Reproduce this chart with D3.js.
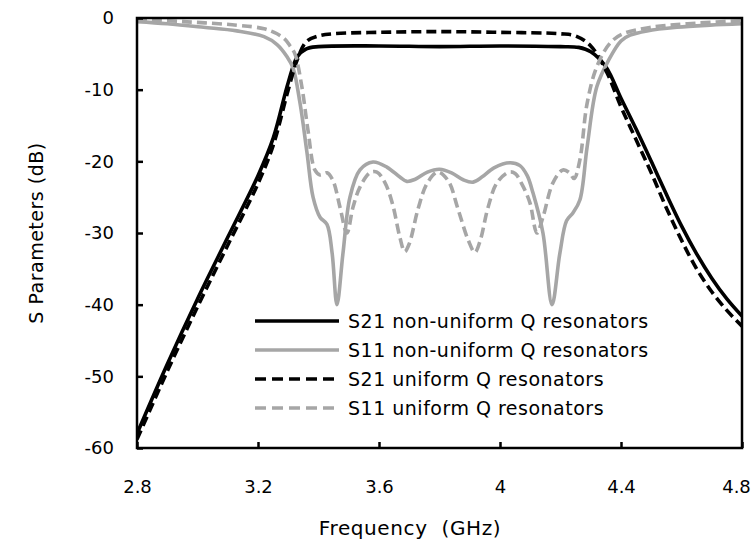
<!DOCTYPE html>
<html>
<head>
<meta charset="utf-8">
<script src="https://cdn.jsdelivr.net/npm/d3@7"></script>
<style>
  body { margin: 0; background: #fff; }
  svg { display: block; font-family: "DejaVu Sans", sans-serif; }
</style>
</head>
<body>
<svg id="chart" width="753" height="544"></svg>
<script>
// x ticks and y ticks, as printed
const xTicks = [2.8, 3.2, 3.6, 4.0, 4.4, 4.8];
const xTickLabels = ['2.8', '3.2', '3.6', '4', '4.4', '4.8'];
const yTicks = [0, -10, -20, -30, -40, -50, -60];
const yTickLabels = ['0', '-10', '-20', '-30', '-40', '-50', '-60'];

// [frequency GHz, dB]
const s21NonUniform = [
  [2.80, -58.0], [2.90, -48.3], [3.00, -39.2], [3.10, -30.6], [3.20, -22.0],
  [3.25, -16.8], [3.30, -9.0], [3.33, -5.4], [3.36, -4.3], [3.40, -4.0],
  [3.6, -3.9], [3.8, -4.0], [4.0, -3.9], [4.2, -4.0], [4.26, -4.1],
  [4.30, -4.7], [4.35, -6.8], [4.40, -11.2], [4.45, -15.5], [4.50, -20.0],
  [4.55, -24.6], [4.60, -29.0], [4.65, -32.9], [4.70, -36.3], [4.75, -39.2],
  [4.80, -41.6]
];
const s11NonUniform = [
  [2.80, -0.5], [2.90, -0.8], [3.02, -1.3], [3.13, -1.8], [3.22, -2.6],
  [3.263, -3.7], [3.296, -5.4], [3.316, -7.0], [3.339, -11.9], [3.362, -18.8],
  [3.382, -25.0], [3.405, -27.8], [3.428, -28.8], [3.445, -32.8], [3.461, -40],
  [3.481, -32.8], [3.504, -25.0], [3.537, -21.2], [3.58, -20.1], [3.626, -20.8],
  [3.669, -22.2], [3.692, -22.8], [3.72, -22.5], [3.76, -21.5], [3.80, -21.1],
  [3.84, -21.6], [3.88, -22.6], [3.911, -22.9], [3.94, -22.2], [3.98, -20.9],
  [4.033, -20.2], [4.066, -20.6], [4.09, -22.0], [4.109, -24.4], [4.142, -30],
  [4.172, -40], [4.198, -32.8], [4.22, -28.3], [4.241, -27.2], [4.264, -25.4],
  [4.288, -18.0], [4.32, -9.6], [4.36, -5.8], [4.40, -3.2], [4.43, -2.4],
  [4.486, -1.8], [4.585, -1.3], [4.694, -1.0], [4.80, -0.8]
];
const s21Uniform = [
  [2.80, -58.8], [2.90, -49.3], [3.00, -40.3], [3.10, -31.7], [3.20, -23.1],
  [3.25, -17.8], [3.30, -10.0], [3.33, -5.8], [3.36, -3.3], [3.40, -2.5],
  [3.45, -2.2], [3.6, -2.0], [3.8, -1.9], [4.0, -2.0], [4.2, -2.2],
  [4.25, -2.5], [4.30, -3.9], [4.35, -7.3], [4.40, -12.4], [4.45, -17.0],
  [4.50, -21.6], [4.55, -26.5], [4.60, -31.0], [4.65, -35.0], [4.70, -38.2],
  [4.75, -40.8], [4.80, -43.0]
];
const s11Uniform = [
  [2.80, -0.2], [2.95, -0.5], [3.13, -1.0], [3.22, -1.5], [3.263, -2.2],
  [3.29, -3.0], [3.306, -3.9], [3.322, -5.0], [3.345, -9.6], [3.365, -15.6],
  [3.388, -21.2], [3.405, -21.9], [3.428, -21.6], [3.448, -22.7], [3.471, -26.4],
  [3.494, -30.0], [3.514, -26.4], [3.537, -23.6], [3.570, -21.6], [3.593, -21.5],
  [3.62, -23.0], [3.645, -26.0], [3.669, -30.6], [3.685, -32.6], [3.70, -31.5],
  [3.73, -26.5], [3.76, -23.0], [3.795, -21.5], [3.83, -22.8], [3.86, -26.5],
  [3.895, -31.0], [3.917, -32.7], [3.935, -31.0], [3.96, -26.5], [3.99, -23.0],
  [4.03, -21.5], [4.05, -21.7], [4.075, -23.4], [4.099, -25.8], [4.122, -30.0],
  [4.142, -27.8], [4.175, -23.0], [4.208, -21.2], [4.23, -21.6], [4.245, -22.4],
  [4.264, -19.8], [4.288, -11.9], [4.32, -6.8], [4.364, -3.5], [4.407, -2.2],
  [4.50, -1.3], [4.62, -0.8], [4.80, -0.4]
];

const seriesNames = [
  'S21 non-uniform Q resonators',
  'S11 non-uniform Q resonators',
  'S21 uniform Q resonators',
  'S11 uniform Q resonators'
];

const GRAY = '#a6a6a6';
const series = [
  {name: seriesNames[0], data: s21NonUniform, color: '#000', dash: null},
  {name: seriesNames[1], data: s11NonUniform, color: GRAY, dash: null},
  {name: seriesNames[2], data: s21Uniform, color: '#000', dash: '10,5'},
  {name: seriesNames[3], data: s11Uniform, color: GRAY, dash: '10,5'}
];

const margin = {top: 18, right: 11, bottom: 96, left: 137};
const width = 753, height = 544;

const svg = d3.select('#chart');

const x = d3.scaleLinear().domain([2.8, 4.8]).range([margin.left, width - margin.right]);
const y = d3.scaleLinear().domain([-60, 0]).range([height - margin.bottom, margin.top]);

svg.append('defs').append('clipPath').attr('id', 'plot-clip')
  .append('rect')
  .attr('x', x(2.8)).attr('y', y(0))
  .attr('width', x(4.8) - x(2.8)).attr('height', y(-60) - y(0));

const line = d3.line()
  .x(d => x(d[0]))
  .y(d => y(d[1]))
  .curve(d3.curveCatmullRom.alpha(0.5));

// curves
const plot = svg.append('g').attr('clip-path', 'url(#plot-clip)');
plot.selectAll('path.series')
  .data(series)
  .enter().append('path')
  .attr('class', 'series')
  .attr('d', d => line(d.data))
  .attr('fill', 'none')
  .attr('stroke', d => d.color)
  .attr('stroke-width', 3.6)
  .attr('stroke-dasharray', d => d.dash);

// axes, ticks pointing inwards
const yAxis = d3.axisLeft(y)
  .tickValues(yTicks)
  .tickFormat((d, i) => yTickLabels[i])
  .tickSizeInner(-6)
  .tickSizeOuter(0)
  .tickPadding(23);

const xAxis = d3.axisBottom(x)
  .tickValues(xTicks)
  .tickFormat((d, i) => xTickLabels[i])
  .tickSizeInner(-6)
  .tickSizeOuter(0)
  .tickPadding(32);

const gy = svg.append('g')
  .attr('transform', `translate(${margin.left},0)`)
  .call(yAxis);
const gx = svg.append('g')
  .attr('transform', `translate(0,${height - margin.bottom})`)
  .call(xAxis);

[gx, gy].forEach(g => {
  g.select('.domain').remove();
  g.selectAll('.tick line').attr('stroke', '#000').attr('stroke-width', 2.5);
  g.selectAll('.tick text')
    .attr('fill', '#000')
    .style('font-size', '18px')
    .style('font-family', '"DejaVu Sans", sans-serif');
});
// last label is kept inside the picture, as in the original
gx.selectAll('.tick text').filter((d, i) => i === xTicks.length - 1).attr('dx', -6);

// frame
svg.append('rect')
  .attr('x', x(2.8)).attr('y', y(0))
  .attr('width', x(4.8) - x(2.8)).attr('height', y(-60) - y(0))
  .attr('fill', 'none')
  .attr('stroke', '#000')
  .attr('stroke-width', 2.5);

// axis titles
svg.append('text')
  .attr('x', 410).attr('y', 535)
  .attr('text-anchor', 'middle')
  .style('font-size', '20px')
  .style('letter-spacing', '0.6px')
  .style('white-space', 'pre')
  .text('Frequency  (GHz)');

svg.append('text')
  .attr('transform', `translate(43,${(y(0) + y(-60)) / 2}) rotate(-90)`)
  .attr('text-anchor', 'middle')
  .style('font-size', '19px')
  .style('letter-spacing', '0.5px')
  .text('S Parameters (dB)');

// legend
const legend = svg.append('g').attr('transform', 'translate(255,321)');
const item = legend.selectAll('g')
  .data(series)
  .enter().append('g')
  .attr('transform', (d, i) => `translate(0,${i * 29})`);

item.append('line')
  .attr('x1', 0).attr('x2', 84)
  .attr('stroke', d => d.color)
  .attr('stroke-width', 3.6)
  .attr('stroke-dasharray', d => d.dash ? '11,6' : null);

item.append('text')
  .attr('x', 93)
  .attr('dy', '0.36em')
  .style('font-size', '19px')
  .style('letter-spacing', '0.5px')
  .text(d => d.name);
</script>
</body>
</html>
